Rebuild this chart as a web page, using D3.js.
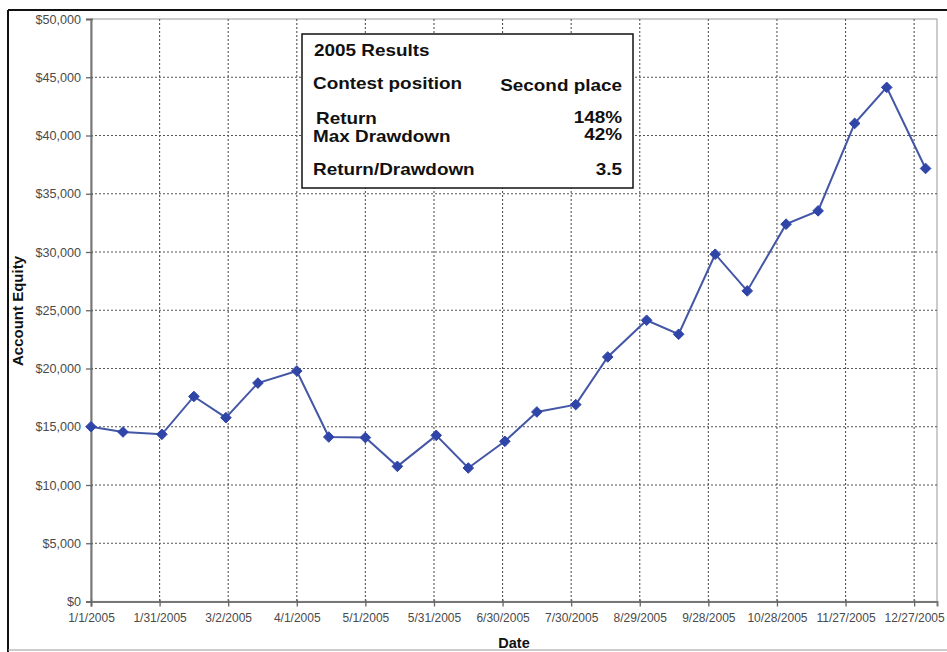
<!DOCTYPE html>
<html>
<head>
<meta charset="utf-8">
<script src="https://cdn.jsdelivr.net/npm/d3@7"></script>
<style>
  html, body { margin: 0; padding: 0; background: #fff; }
  svg { display: block; font-family: "Liberation Sans", Arial, Helvetica, sans-serif; }
</style>
</head>
<body>
<svg id="chart" width="947" height="652"></svg>
<script>
// ---- data ----
const dates = [
  "2005-01-01","2005-01-15","2005-02-01","2005-02-15","2005-03-01","2005-03-15",
  "2005-04-01","2005-04-15","2005-05-01","2005-05-15","2005-06-01","2005-06-15",
  "2005-07-01","2005-07-15","2005-08-01","2005-08-15","2005-09-01","2005-09-15",
  "2005-10-01","2005-10-15","2005-11-01","2005-11-15","2005-12-01","2005-12-15",
  "2006-01-01"
];
const equity = [
  15000, 14550, 14350, 17600, 15780, 18750,
  19790, 14120, 14070, 11600, 14260, 11460,
  13750, 16270, 16900, 20990, 24140, 22940,
  29810, 26660, 32390, 33530, 41040, 44130,
  37170
];
const xTickLabels = [
  "1/1/2005","1/31/2005","3/2/2005","4/1/2005","5/1/2005","5/31/2005",
  "6/30/2005","7/30/2005","8/29/2005","9/28/2005","10/28/2005","11/27/2005","12/27/2005"
];
const yTickValues = [0, 5000, 10000, 15000, 20000, 25000, 30000, 35000, 40000, 45000, 50000];
const resultsTitle = "2005 Results";
const resultsRows = [
  ["Contest position", "Second place"],
  ["Return", "148%"],
  ["Max Drawdown", "42%"],
  ["Return/Drawdown", "3.5"]
];

// ---- layout ----
const svg = d3.select("#chart");
const pL = 91, pR = 937, pT = 19, pB = 601.5;
const parseISO = d3.utcParse("%Y-%m-%d");
const parseTick = d3.utcParse("%-m/%-d/%Y");
const fmtTick = d3.utcFormat("%-m/%-d/%Y");

const x = d3.scaleUtc()
  .domain([parseISO("2005-01-01"), parseISO("2006-01-06")])
  .range([pL, pR]);
const y = d3.scaleLinear().domain([0, 50000]).range([pB, pT]);

// outer frame
svg.append("line").attr("x1", 8).attr("x2", 947).attr("y1", 10).attr("y2", 10)
  .attr("stroke", "#111").attr("stroke-width", 2);
svg.append("line").attr("x1", 8).attr("x2", 8).attr("y1", 10).attr("y2", 652)
  .attr("stroke", "#111").attr("stroke-width", 2);
svg.append("line").attr("x1", 8).attr("x2", 947).attr("y1", 650).attr("y2", 650)
  .attr("stroke", "#999").attr("stroke-width", 1);

// plot area border (light)
svg.append("rect").attr("x", pL).attr("y", pT)
  .attr("width", pR - pL).attr("height", pB - pT)
  .attr("fill", "none").attr("stroke", "#aaa").attr("stroke-width", 1.2);

const xTicks = xTickLabels.map(parseTick);

// gridlines
svg.append("g").selectAll("line").data(yTickValues.filter(v => v > 0 && v < 50000)).join("line")
  .attr("x1", pL).attr("x2", pR)
  .attr("y1", d => y(d)).attr("y2", d => y(d))
  .attr("stroke", "#555").attr("stroke-width", 1.1).attr("stroke-dasharray", "2,2");
svg.append("g").selectAll("line").data(xTicks.slice(1)).join("line")
  .attr("x1", d => x(d)).attr("x2", d => x(d))
  .attr("y1", pT).attr("y2", pB)
  .attr("stroke", "#555").attr("stroke-width", 1.1).attr("stroke-dasharray", "2,2");

// axes
const yAxis = svg.append("g").attr("transform", `translate(${pL},0)`)
  .call(d3.axisLeft(y).tickValues(yTickValues).tickSize(5).tickPadding(5)
    .tickFormat(d => "$" + d3.format(",")(d)));
const xAxis = svg.append("g").attr("transform", `translate(0,${pB})`)
  .call(d3.axisBottom(x).tickValues(xTicks).tickSize(5).tickPadding(7)
    .tickFormat(fmtTick));
[yAxis, xAxis].forEach(a => {
  a.select(".domain").attr("stroke", "#777").attr("stroke-width", 2);
  a.selectAll(".tick line").attr("stroke", "#666").attr("stroke-width", 1.3);
  a.selectAll(".tick text").attr("fill", "#4a4a4a").attr("font-size", 12)
    .attr("font-family", "'Liberation Sans', Arial, sans-serif");
});
yAxis.selectAll(".tick text").attr("font-size", 12.6);
xAxis.selectAll(".tick line").attr("y1", -2);
yAxis.selectAll(".tick line").attr("x1", 2);

// axis titles
svg.append("text").attr("x", 514).attr("y", 648).attr("text-anchor", "middle")
  .attr("font-size", 14.5).attr("font-weight", "bold").attr("fill", "#111").text("Date");
svg.append("text").attr("transform", "translate(23,311) rotate(-90)")
  .attr("text-anchor", "middle").attr("font-size", 15).attr("font-weight", "bold")
  .attr("fill", "#111").text("Account Equity");

// series
const pts = dates.map((d, i) => ({ date: parseISO(d), v: equity[i] }));
svg.append("path").datum(pts)
  .attr("fill", "none").attr("stroke", "#4456a6").attr("stroke-width", 2)
  .attr("d", d3.line().x(d => x(d.date)).y(d => y(d.v)));
svg.append("g").selectAll("path").data(pts).join("path")
  .attr("transform", d => `translate(${x(d.date)},${y(d.v)})`)
  .attr("d", d3.symbol(d3.symbolDiamond2, 72))
  .attr("fill", "#2f45a8").attr("stroke", "#2f45a8").attr("stroke-width", 1);

// results box
const bx = 302, by = 34, bw = 331, bh = 154;
svg.append("rect").attr("x", bx).attr("y", by).attr("width", bw).attr("height", bh)
  .attr("fill", "#fff").attr("stroke", "#111").attr("stroke-width", 1.5);
const tg = svg.append("g").attr("font-size", 16.3).attr("font-weight", "bold").attr("fill", "#111");
const sx = 1.16;
function boxText(txt, tx, ty, anchor) {
  tg.append("text").attr("transform", `translate(${tx},${ty}) scale(${sx},1)`)
    .attr("text-anchor", anchor).text(txt);
}
boxText(resultsTitle, 314, 55.5, "start");
const rowY = [[88.5, 91], [124, 123], [141.5, 140], [175, 175]];
const rowLx = [313, 316, 313, 313];
resultsRows.forEach((r, i) => {
  boxText(r[0], rowLx[i], rowY[i][0], "start");
  boxText(r[1], 622, rowY[i][1], "end");
});
</script>
</body>
</html>
